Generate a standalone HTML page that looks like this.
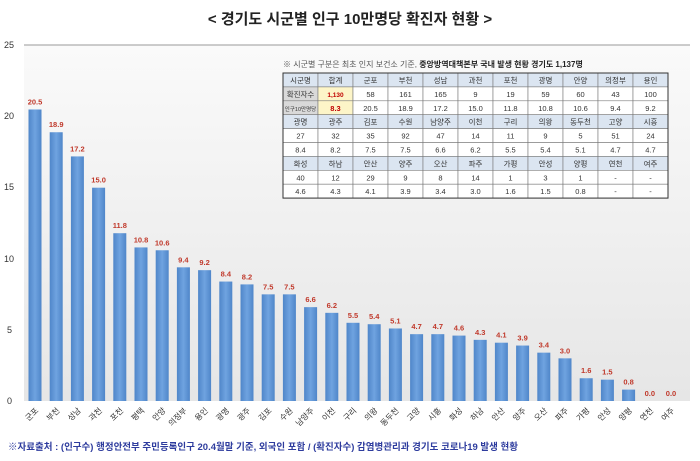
<!DOCTYPE html>
<html><head><meta charset="utf-8">
<style>
body{margin:0;width:700px;height:456px;background:#fff;overflow:hidden;font-family:"Liberation Sans","Noto Sans CJK KR",sans-serif;}
svg text{font-family:"Liberation Sans","Noto Sans CJK KR",sans-serif;}
</style></head><body>
<svg id="s" width="700" height="456" xmlns="http://www.w3.org/2000/svg">
<defs>
<linearGradient id="bg" x1="0" y1="0" x2="0" y2="1"><stop offset="0" stop-color="#fafafa"/><stop offset="1" stop-color="#e6e6e6"/></linearGradient>
<linearGradient id="bar" x1="0" y1="0" x2="1" y2="0"><stop offset="0" stop-color="#4f86c9"/><stop offset="0.5" stop-color="#6fa3e0"/><stop offset="1" stop-color="#4f86c9"/></linearGradient>
</defs>
<rect x="0" y="0" width="700" height="456" fill="#fff"/>
<rect x="24" y="45" width="666" height="356" fill="url(#bg)"/>
<line x1="24" y1="45" x2="690" y2="45" stroke="#999" stroke-width="1"/>
<text x="350" y="24" text-anchor="middle" font-size="15" font-weight="bold" fill="#222">&lt; 경기도 시군별 인구 10만명당 확진자 현황 &gt;</text>
<g font-size="9" fill="#333" text-anchor="start">
<text x="4" y="48">25</text><text x="4" y="119">20</text><text x="4" y="190">15</text><text x="4" y="262">10</text><text x="7" y="333">5</text><text x="7" y="404">0</text>
</g>
<g id="bars"></g>
<text x="8" y="450" font-size="9.5" font-weight="bold" fill="#2e3c9e">※자료출처 : (인구수) 행정안전부 주민등록인구 20.4월말 기준, 외국인 포함 / (확진자수) 감염병관리과 경기도 코로나19 발생 현황</text>
<text x="283" y="67" font-size="8" fill="#555">※ 시군별 구분은 최초 인지 보건소 기준, <tspan font-weight="bold" fill="#222">중앙방역대책본부 국내 발생 현황 경기도 1,137명</tspan></text>
<g id="tbl"></g>
</svg>
<script>
var v=[20.5,18.9,17.2,15.0,11.8,10.8,10.6,9.4,9.2,8.4,8.2,7.5,7.5,6.6,6.2,5.5,5.4,5.1,4.7,4.7,4.6,4.3,4.1,3.9,3.4,3.0,1.6,1.5,0.8,0.0,0.0];
var n=["군포","부천","성남","과천","포천","평택","안양","의정부","용인","광명","광주","김포","수원","남양주","이천","구리","의왕","동두천","고양","시흥","화성","하남","안산","양주","오산","파주","가평","안성","양평","연천","여주"];
var h="";
for(var i=0;i<31;i++){var cx=35+i*21.2,y=401-v[i]*14.22;
if(v[i]>0)h+='<rect x="'+(cx-6.5)+'" y="'+y+'" width="13" height="'+(401-y)+'" fill="url(#bar)"/>';
h+='<text x="'+cx+'" y="'+(y-5)+'" text-anchor="middle" font-size="7.5" font-weight="bold" fill="#c0392b">'+v[i].toFixed(1)+'</text>';
h+='<text transform="translate('+(cx+4)+',411) rotate(-45)" text-anchor="end" font-size="8" fill="#333">'+n[i]+'</text>';}
document.getElementById("bars").innerHTML=h;
var r=[["시군명","합계","군포","부천","성남","과천","포천","광명","안양","의정부","용인"],
["확진자수","1,130","58","161","165","9","19","59","60","43","100"],
["인구10만명당","8.3","20.5","18.9","17.2","15.0","11.8","10.8","10.6","9.4","9.2"],
["광명","광주","김포","수원","남양주","이천","구리","의왕","동두천","고양","시흥"],
["27","32","35","92","47","14","11","9","5","51","24"],
["8.4","8.2","7.5","7.5","6.6","6.2","5.5","5.4","5.1","4.7","4.7"],
["화성","하남","안산","양주","오산","파주","가평","안성","양평","연천","여주"],
["40","12","29","9","8","14","1","3","1","-","-"],
["4.6","4.3","4.1","3.9","3.4","3.0","1.6","1.5","0.8","-","-"]];
var x0=283,y0=73,cw=35,rh=13.9,t='<rect x="'+x0+'" y="'+y0+'" width="'+(cw*11)+'" height="'+(rh*9)+'" fill="#fff"/>';
for(var a=0;a<9;a++)for(var b=0;b<11;b++){var x=x0+b*cw,y=y0+a*rh,f="#fff",c="#333",w="normal";
if(a%3==0)f="#dbe5f1";
if((a==1||a==2)&&b==0)f="#d9d9d9";
if((a==1||a==2)&&b==1){f="#fdf5c8";c="#c00000";w="bold";}
var fs=r[a][b].length>5?5.5:(r[a][b].length>4?6.5:7.5);
t+='<rect x="'+x+'" y="'+y+'" width="'+cw+'" height="'+rh+'" fill="'+f+'" stroke="#777" stroke-width="0.6"/>';
t+='<text x="'+(x+cw/2)+'" y="'+(y+10)+'" text-anchor="middle" font-size="'+fs+'" font-weight="'+w+'" fill="'+c+'">'+r[a][b]+'</text>';}
t+='<rect x="'+x0+'" y="'+y0+'" width="'+(cw*11)+'" height="'+(rh*9)+'" fill="none" stroke="#333" stroke-width="1"/>';
document.getElementById("tbl").innerHTML=t;
</script>
</body></html>
